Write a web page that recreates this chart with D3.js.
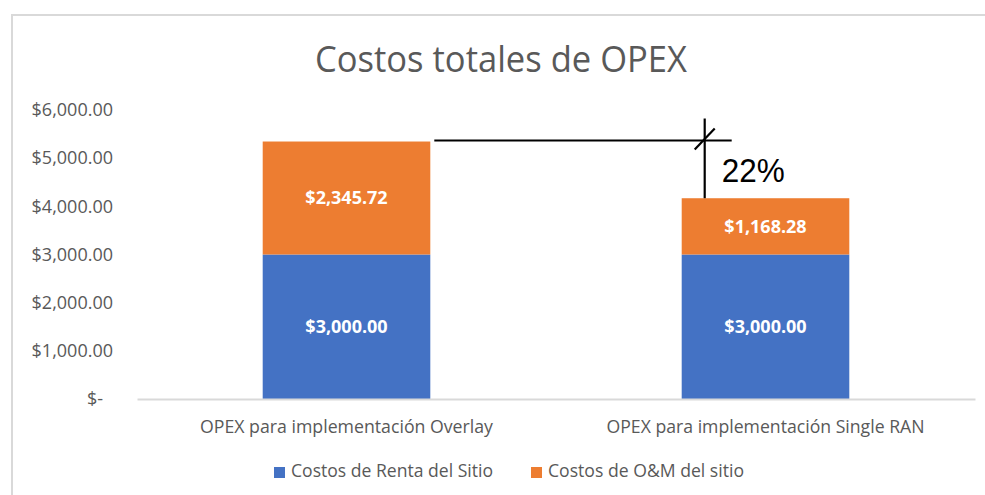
<!DOCTYPE html>
<html>
<head>
<meta charset="utf-8">
<script src="https://cdn.jsdelivr.net/npm/d3@7"></script>
<style>
  html, body { margin: 0; padding: 0; background: #ffffff; }
  svg { display: block; font-family: "Open Sans", sans-serif; }
</style>
</head>
<body>
<svg id="chart" width="985" height="495"></svg>
<script>
// Categories and stacked series
const categories = ["OPEX para implementación Overlay", "OPEX para implementación Single RAN"];
const rentaSitio = [3000.00, 3000.00];
const omSitio = [2345.72, 1168.28];
const seriesNames = ["Costos de Renta del Sitio", "Costos de O&M del sitio"];
const seriesColors = ["#4472C4", "#ED7D31"];
const yTicks = [0, 1000, 2000, 3000, 4000, 5000, 6000];

const svg = d3.select("#chart");
const textGray = "#595959";

// Chart frame
svg.append("rect")
  .attr("x", 12).attr("y", 15)
  .attr("width", 990).attr("height", 500)
  .attr("fill", "#ffffff")
  .attr("stroke", "#d9d9d9").attr("stroke-width", 2);

// Title
svg.append("text")
  .attr("x", 501).attr("y", 72)
  .attr("text-anchor", "middle")
  .attr("font-size", 37)
  .attr("fill", textGray)
  .attr("textLength", 372)
  .attr("lengthAdjust", "spacingAndGlyphs")
  .text("Costos totales de OPEX");

// Scales
const x = d3.scaleBand()
  .domain(categories)
  .range([137, 975])
  .paddingInner(0.6)
  .paddingOuter(0.3);

const y = d3.scaleLinear()
  .domain([0, 6000])
  .range([399, 110]);

// Stack the two series
const rows = categories.map((c, i) => ({ cat: c, renta: rentaSitio[i], om: omSitio[i] }));
const stack = d3.stack().keys(["renta", "om"]);
const layers = stack(rows);

// Y axis (labels only)
const money = d3.format(",.2f");
const yAxis = d3.axisLeft(y)
  .tickValues(yTicks)
  .tickSize(0)
  .tickPadding(24)
  .tickFormat(d => d === 0 ? "$-" : "$" + money(d));

const yg = svg.append("g")
  .attr("transform", "translate(137,0)")
  .call(yAxis);
yg.select(".domain").remove();
yg.selectAll("text")
  .attr("font-family", "'Open Sans', sans-serif")
  .attr("font-size", 18)
  .attr("fill", textGray)
  .attr("dx", d => d === 0 ? -10 : 0);

// Bars
layers.forEach((layer, li) => {
  svg.append("g")
    .selectAll("rect")
    .data(layer)
    .join("rect")
    .attr("x", d => x(d.data.cat))
    .attr("width", x.bandwidth())
    .attr("y", d => y(d[1]))
    .attr("height", d => y(d[0]) - y(d[1]))
    .attr("fill", seriesColors[li]);

  // Value labels centred in each segment
  svg.append("g")
    .selectAll("text")
    .data(layer)
    .join("text")
    .attr("x", d => x(d.data.cat) + x.bandwidth() / 2)
    .attr("y", d => (y(d[0]) + y(d[1])) / 2)
    .attr("dy", "0.36em")
    .attr("text-anchor", "middle")
    .attr("font-size", 18)
    .attr("font-weight", "bold")
    .attr("fill", "#ffffff")
    .text(d => "$" + money(d[1] - d[0]));
});

// X axis: baseline and category labels
const xAxis = d3.axisBottom(x)
  .tickSize(0)
  .tickSizeOuter(0)
  .tickPadding(21);
const xg = svg.append("g")
  .attr("transform", "translate(0,399)")
  .call(xAxis);
xg.select(".domain").attr("stroke", "#d9d9d9").attr("stroke-width", 2);
const catWidths = [293, 318];
xg.selectAll("text")
  .attr("font-family", "'Open Sans', sans-serif")
  .attr("font-size", 18)
  .attr("fill", textGray)
  .attr("textLength", (d, i) => catWidths[i])
  .attr("lengthAdjust", "spacingAndGlyphs");

// Reduction marker between the two totals
const total0 = rentaSitio[0] + omSitio[0];
const total1 = rentaSitio[1] + omSitio[1];
const pct = Math.round((1 - total1 / total0) * 100);
const xRef = x(categories[1]) + 23;
const ann = svg.append("g").attr("stroke", "#000000").attr("stroke-width", 2.2).attr("fill", "none");
ann.append("line")
  .attr("x1", x(categories[0]) + x.bandwidth() + 4).attr("x2", xRef + 27)
  .attr("y1", y(total0) - 1).attr("y2", y(total0) - 1);
ann.append("line")
  .attr("x1", xRef).attr("x2", xRef)
  .attr("y1", y(total0) - 23).attr("y2", y(total1));
ann.append("line")
  .attr("x1", xRef - 10).attr("y1", y(total0) + 8)
  .attr("x2", xRef + 10).attr("y2", y(total0) - 13);

svg.append("text")
  .attr("x", xRef + 17).attr("y", 182)
  .attr("font-family", "'Liberation Sans', Arial, sans-serif")
  .attr("font-size", 34)
  .attr("fill", "#000000")
  .attr("textLength", 63)
  .attr("lengthAdjust", "spacingAndGlyphs")
  .text(pct + "%");

// Legend
const legendX = [274, 531];
const legendW = [202, 196];
const legend = svg.append("g");
seriesNames.forEach((name, i) => {
  legend.append("rect")
    .attr("x", legendX[i]).attr("y", 467)
    .attr("width", 11).attr("height", 11)
    .attr("fill", seriesColors[i]);
  legend.append("text")
    .attr("x", legendX[i] + 17).attr("y", 477)
    .attr("font-size", 18)
    .attr("fill", textGray)
    .attr("textLength", legendW[i])
    .attr("lengthAdjust", "spacingAndGlyphs")
    .text(name);
});
</script>
</body>
</html>
